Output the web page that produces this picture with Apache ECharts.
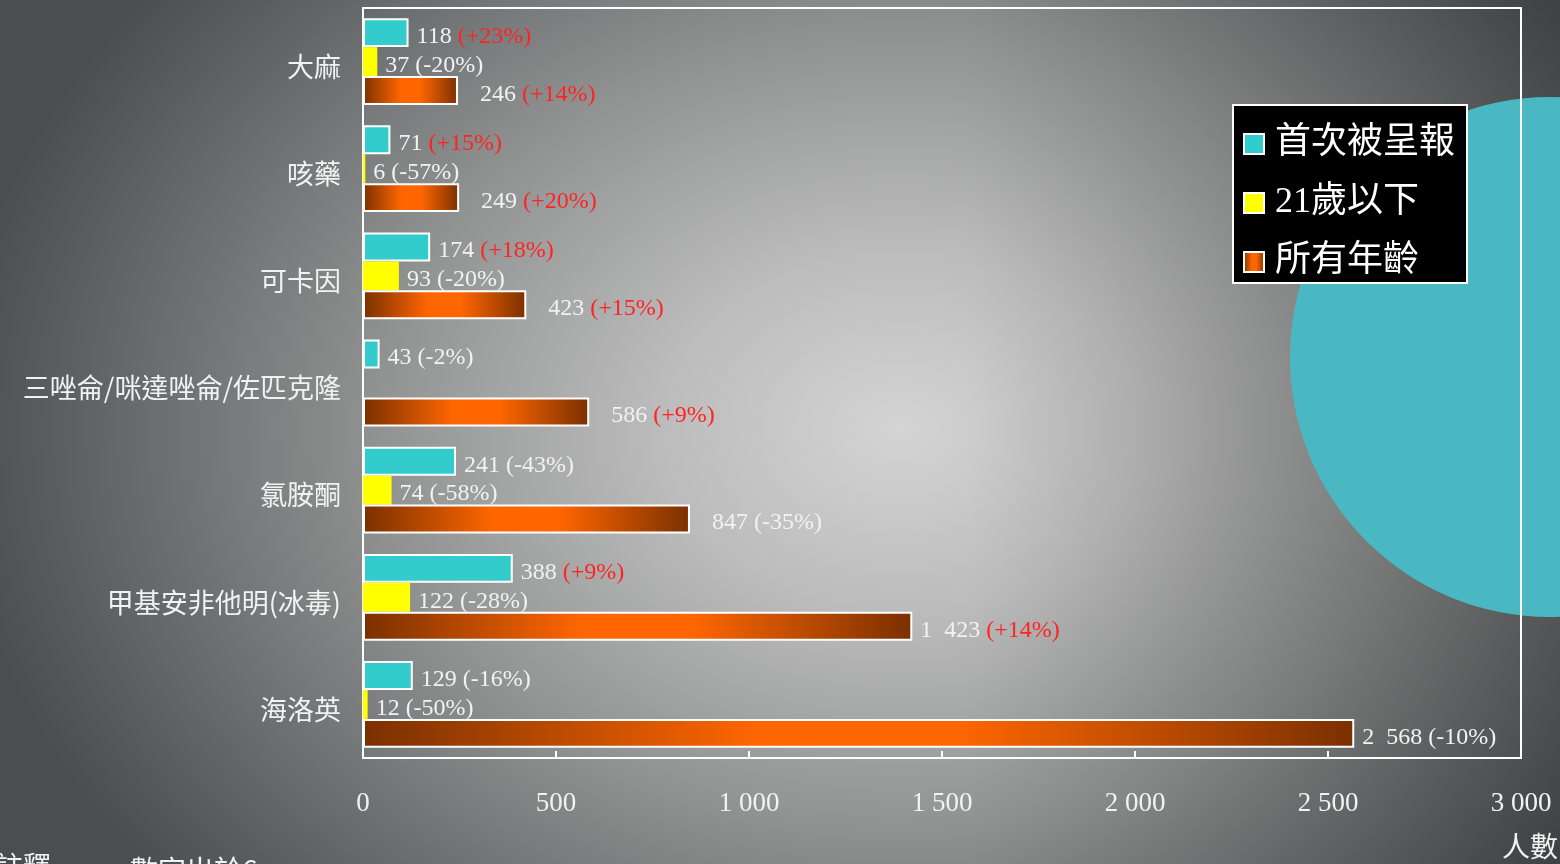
<!DOCTYPE html>
<html>
<head>
<meta charset="utf-8">
<title>濫用藥物人數</title>
<script src="https://cdn.jsdelivr.net/npm/echarts@6/dist/echarts.min.js"></script>
<style>
  html, body { margin: 0; padding: 0; }
  #chart {
    width: 1560px;
    height: 864px;
    background:
      linear-gradient(to right, rgba(0,0,0,0) 62%, rgba(0,0,0,0.28) 100%),
      radial-gradient(ellipse 950px 720px at 900px 430px,
        #d4d4d4 0%, #bcbcbc 25%, #919292 55%, #606465 85%, #4a4e4f 100%);
  }
</style>
</head>
<body>
<div id="chart"></div>
<script>
// Drug categories, top to bottom
const categories = ['大麻', '咳藥', '可卡因', '三唑侖/咪達唑侖/佐匹克隆', '氯胺酮', '甲基安非他明(冰毒)', '海洛英'];
const seriesNames = ['首次被呈報', '21歲以下', '所有年齡'];

// Reported persons and change versus previous period (%)
const firstReported = [118, 71, 174, 43, 241, 388, 129];
const firstReportedChange = [23, 15, 18, -2, -43, 9, -16];
const under21 = [37, 6, 93, null, 74, 122, 12];
const under21Change = [-20, -57, -20, null, -58, -28, -50];
const allAges = [246, 249, 423, 586, 847, 1423, 2568];
const allAgesChange = [14, 20, 15, 9, -35, 14, -10];

// x axis
const xMin = 0, xMax = 3000, xStep = 500;
const xAxisName = '人數';
const noteLead = '註釋';
const noteText = ': 數字出於6';

const FONT = "'Liberation Serif', 'Noto Sans CJK TC', serif";
const CJK_FONT = "'Noto Sans CJK TC', 'Liberation Serif', sans-serif";
const TEXT = '#f2f2f2';

function groupThousands(v, sep) {
  if (v < 1000) return String(v);
  return Math.floor(v / 1000) + sep + String(v % 1000).padStart(3, '0');
}

function makeLabelFormatter(changes) {
  return function (p) {
    const c = changes[p.dataIndex];
    if (p.value == null || c == null) return '';
    const sign = c > 0 ? '+' : '';
    const style = c > 0 ? 'up' : 'dn';
    return '{v|' + groupThousands(p.value, '\u2002') + ' }{' + style + '|(' + sign + c + '%)}';
  };
}

const labelRich = {
  v: { color: TEXT, fontSize: 24, fontFamily: FONT },
  up: { color: '#ff2424', fontSize: 24, fontFamily: FONT },
  dn: { color: TEXT, fontSize: 24, fontFamily: FONT }
};

function barData(values, wideGapBelow) {
  return values.map(v => {
    if (v == null) return null;
    const item = { value: v };
    if (wideGapBelow && v < 1000) item.label = { distance: 22 };
    return item;
  });
}

const orangeFill = {
  type: 'linear', x: 0, y: 0, x2: 1, y2: 0,
  colorStops: [
    { offset: 0, color: '#7a3000' },
    { offset: 0.4, color: '#ff6600' },
    { offset: 0.6, color: '#ff6600' },
    { offset: 1, color: '#7a3000' }
  ]
};

const chart = echarts.init(document.getElementById('chart'), null, { renderer: 'canvas' });

const barLabel = (changes) => ({
  show: true, position: 'right', distance: 8, offset: [0, 4],
  formatter: makeLabelFormatter(changes), rich: labelRich
});

chart.setOption({
  backgroundColor: 'transparent',
  animation: false,
  textStyle: { fontFamily: FONT },
  graphic: [
    {
      type: 'circle', z: -10, silent: true,
      shape: { cx: 1550, cy: 357, r: 260 },
      style: { fill: '#4ab8c2' }
    },
    {
      type: 'text', left: -5, top: 856, z: 10,
      style: { text: noteLead, fontSize: 28, fill: TEXT, fontFamily: FONT }
    },
    {
      type: 'text', left: 116, top: 856, z: 10,
      style: { text: noteText, fontSize: 28, fill: TEXT, fontFamily: CJK_FONT }
    },
    {
      type: 'text', right: 2, top: 836, z: 10,
      style: { text: xAxisName, fontSize: 28, fill: TEXT, fontFamily: FONT }
    }
  ],
  legend: {
    orient: 'vertical',
    left: 1233,
    top: 105,
    data: seriesNames,
    backgroundColor: '#000',
    borderColor: '#fff',
    borderWidth: 2,
    borderRadius: 0,
    padding: [21, 12, 3, 10],
    itemGap: 23,
    itemWidth: 20,
    itemHeight: 20,
    icon: 'rect',
    itemStyle: { borderColor: '#fff', borderWidth: 2 },
    textStyle: { color: '#fff', fontSize: 36, lineHeight: 36, fontFamily: FONT, padding: [0, 0, 0, 6] }
  },
  grid: {
    left: 363, top: 8, width: 1158, height: 750,
    show: true,
    borderColor: '#ffffff',
    borderWidth: 2,
    backgroundColor: 'transparent',
    containLabel: false
  },
  xAxis: {
    type: 'value',
    min: xMin, max: xMax, interval: xStep,
    axisLine: { show: true, lineStyle: { color: '#fff', width: 2 } },
    axisTick: { show: true, inside: true, length: 7, lineStyle: { color: '#fff', width: 2 } },
    splitLine: { show: false },
    axisLabel: {
      color: TEXT, fontSize: 27, fontFamily: FONT, margin: 32,
      formatter: v => groupThousands(v, ' ')
    }
  },
  yAxis: {
    type: 'category',
    inverse: true,
    data: categories,
    axisLine: { show: true, lineStyle: { color: '#fff', width: 2 } },
    axisTick: { show: false },
    axisLabel: {
      color: TEXT, fontSize: 27, fontFamily: CJK_FONT, margin: 22,
      verticalAlign: 'top', lineHeight: 10
    }
  },
  series: [
    {
      name: seriesNames[0], type: 'bar',
      barCategoryGap: '19%', barGap: '0%',
      data: barData(firstReported, false),
      itemStyle: { color: '#33cccc', borderColor: '#fff', borderWidth: 2 },
      label: barLabel(firstReportedChange)
    },
    {
      name: seriesNames[1], type: 'bar',
      barCategoryGap: '19%', barGap: '0%',
      data: barData(under21, false),
      itemStyle: { color: '#ffff00', borderWidth: 0 },
      label: barLabel(under21Change)
    },
    {
      name: seriesNames[2], type: 'bar',
      barCategoryGap: '19%', barGap: '0%',
      data: barData(allAges, true),
      itemStyle: { color: orangeFill, borderColor: '#fff', borderWidth: 2 },
      label: barLabel(allAgesChange)
    }
  ]
});
</script>
</body>
</html>
